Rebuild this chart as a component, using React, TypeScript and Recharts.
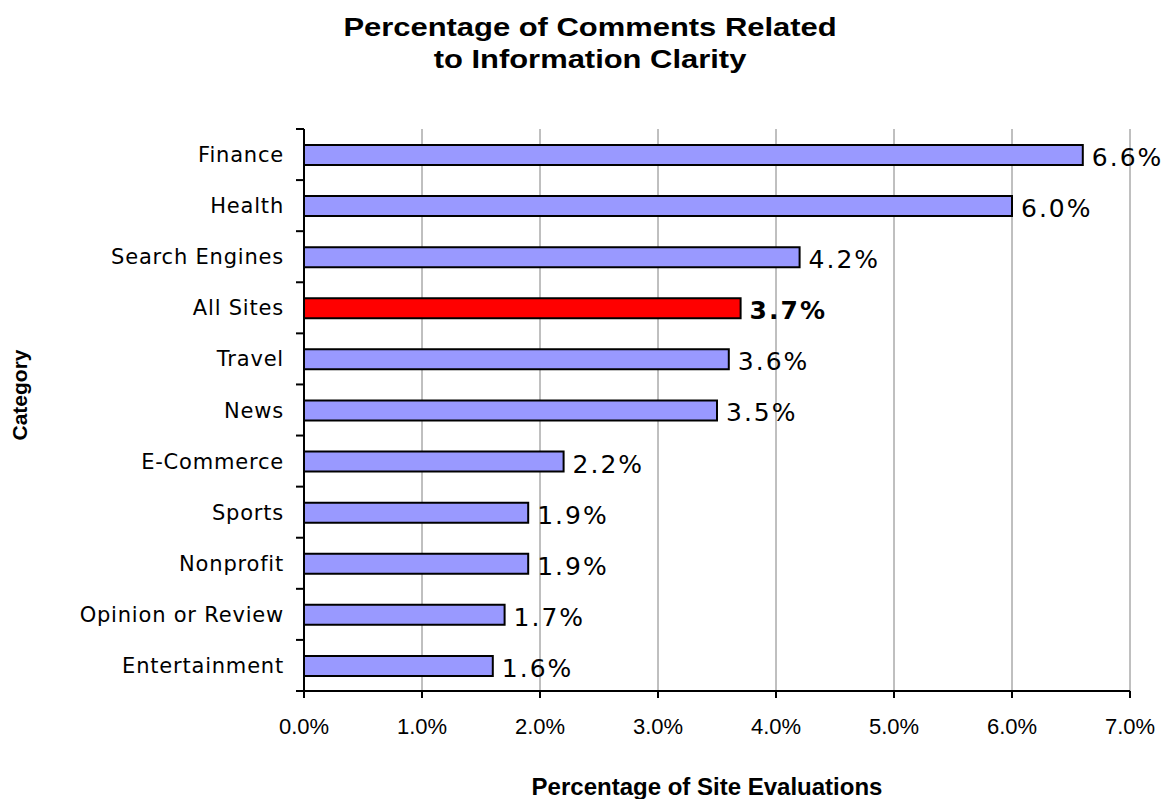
import React from 'react';
import { BarChart, Bar, XAxis, YAxis, CartesianGrid, Cell, LabelList } from 'recharts';

const categories = [
  'Finance',
  'Health',
  'Search Engines',
  'All Sites',
  'Travel',
  'News',
  'E-Commerce',
  'Sports',
  'Nonprofit',
  'Opinion or Review',
  'Entertainment',
];
const percents = [6.6, 6.0, 4.2, 3.7, 3.6, 3.5, 2.2, 1.9, 1.9, 1.7, 1.6];
const xTicks = [0, 1, 2, 3, 4, 5, 6, 7];
const highlighted = 'All Sites';

const data = categories.map((name, i) => ({ name, value: percents[i] }));

const Y_TICK_SIZE = 8;
const Y_TICK_MARGIN = 12;
const verdana = '"DejaVu Sans", Verdana, sans-serif';
const arial = '"Liberation Sans", Arial, sans-serif';

const CategoryTick = (props: any) => {
  const { x, y, payload, index, visibleTicksCount, height } = props;
  const axisX = x + Y_TICK_SIZE + Y_TICK_MARGIN;
  const band = height / visibleTicksCount;
  const top = y - band / 2;
  return (
    <g>
      <line x1={axisX - Y_TICK_SIZE} x2={axisX} y1={top} y2={top} stroke="#000" strokeWidth={2} />
      {index === visibleTicksCount - 1 && (
        <line x1={axisX - Y_TICK_SIZE} x2={axisX} y1={y + band / 2} y2={y + band / 2} stroke="#000" strokeWidth={2} />
      )}
      <text x={x} y={y + 7.5} textAnchor="end" fontSize={21} fontFamily={verdana} fill="#000" letterSpacing={0.8}>
        {payload.value}
      </text>
    </g>
  );
};

const ValueLabel = (props: any) => {
  const { x, y, width, height, value, index } = props;
  const bold = categories[index] === highlighted;
  return (
    <text
      x={x + width + 9}
      y={y + height / 2 + 11}
      fontSize={25}
      fontFamily={verdana}
      fontWeight={bold ? 'bold' : 'normal'}
      letterSpacing={2}
      fill="#000"
    >
      {Number(value).toFixed(1)}%
    </text>
  );
};

const App: React.FC = () => {
  return (
    <div style={{ position: 'absolute', left: 0, top: 0, width: 1167, height: 799, background: '#fff' }}>
      <BarChart
        width={1167}
        height={799}
        data={data}
        layout="vertical"
        barSize={20}
        margin={{ top: 129, right: 37, left: 0, bottom: 48 }}
      >
        <CartesianGrid horizontal={false} stroke="#808080" strokeWidth={1} />
        <XAxis
          type="number"
          domain={[0, 7]}
          ticks={xTicks}
          interval={0}
          height={60}
          tickFormatter={(v: number) => v.toFixed(1) + '%'}
          tick={{ fill: '#000', fontSize: 22, fontFamily: arial }}
          tickSize={7}
          tickMargin={20}
          axisLine={{ stroke: '#000', strokeWidth: 2 }}
          tickLine={{ stroke: '#000', strokeWidth: 2 }}
        />
        <XAxis
          xAxisId="top"
          orientation="top"
          type="number"
          domain={[0, 7]}
          height={0}
          tick={false}
          tickLine={false}
          axisLine={{ stroke: '#808080', strokeWidth: 1 }}
        />
        <YAxis
          type="category"
          dataKey="name"
          width={304}
          interval={0}
          tickSize={Y_TICK_SIZE}
          tickMargin={Y_TICK_MARGIN}
          tickLine={false}
          tick={<CategoryTick />}
          axisLine={{ stroke: '#000', strokeWidth: 2 }}
        />
        <Bar dataKey="value" stroke="#000" strokeWidth={2} isAnimationActive={false}>
          {data.map((d) => (
            <Cell key={d.name} fill={d.name === highlighted ? '#FF0000' : '#9999FF'} />
          ))}
          <LabelList dataKey="value" content={<ValueLabel />} />
        </Bar>
      </BarChart>
      <svg
        width={1167}
        height={799}
        style={{ position: 'absolute', left: 0, top: 0, pointerEvents: 'none' }}
      >
        <g fontFamily={arial} fontWeight="bold" fill="#000" textAnchor="middle">
          <text transform="translate(590,36) scale(1.19,1)" fontSize={26}>
            Percentage of Comments Related
          </text>
          <text transform="translate(590,68) scale(1.19,1)" fontSize={26}>
            to Information Clarity
          </text>
          <text x={707} y={795} fontSize={24}>
            Percentage of Site Evaluations
          </text>
          <text transform="translate(27,395) rotate(-90)" fontSize={21}>
            Category
          </text>
        </g>
      </svg>
    </div>
  );
};

export default App;
